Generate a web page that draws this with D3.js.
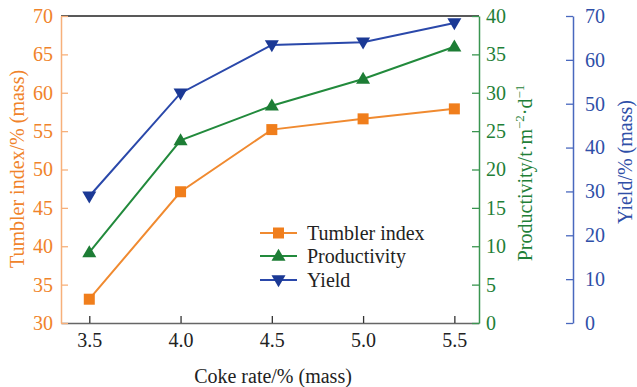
<!DOCTYPE html>
<html><head><meta charset="utf-8">
<script src="https://cdn.jsdelivr.net/npm/d3@7"></script>
<style>body{margin:0;background:#fff}svg{display:block}svg text{font-family:"Liberation Serif","Times New Roman",serif !important}</style>
</head><body>
<svg id="c" width="637" height="387"></svg>
<script>
const cokeRate = [3.5, 4.0, 4.5, 5.0, 5.5];
const tumbler = [33.1, 47.1, 55.2, 56.6, 57.9];
const productivity = [9.2, 23.8, 28.3, 31.8, 36.0];
const yieldV = [28.9, 52.4, 63.4, 64.0, 68.4];
const xTicks = [3.5, 4.0, 4.5, 5.0, 5.5];
const tumblerTicks = [30, 35, 40, 45, 50, 55, 60, 65, 70];
const prodTicks = [0, 5, 10, 15, 20, 25, 30, 35, 40];
const yieldTicks = [0, 10, 20, 30, 40, 50, 60, 70];
const seriesNames = ["Tumbler index", "Productivity", "Yield"];

const C = {
  orange: "#F0832A", orangeAxis: "#F7B07A",
  green: "#1F7F38", greenAxis: "#3A9550",
  blue: "#1F3D9C", blueAxis: "#4968BE", blueText: "#2F4FA8"
};
const svg = d3.select("#c");
const L = 61, R = 479, T = 16, B = 323, RY = 573;
const x = d3.scaleLinear().domain([3.345, 5.635]).range([L, R]);
const yT = d3.scaleLinear().domain([30, 70]).range([B, T]);
const yP = d3.scaleLinear().domain([0, 40]).range([B, T]);
const yY = d3.scaleLinear().domain([0, 70]).range([B, T]);
const fs = 20;

// top frame line
svg.append("line").attr("x1", L).attr("x2", R).attr("y1", T).attr("y2", T).attr("stroke", "#222").attr("stroke-width", 1.5);

function styleAxis(g, lineColor, textColor) {
  g.attr("font-family", null);
  g.select(".domain").attr("stroke", lineColor).attr("stroke-width", 1.5);
  g.selectAll(".tick line").attr("stroke", lineColor).attr("stroke-width", 1.3);
  g.selectAll(".tick text").attr("fill", textColor).attr("font-size", fs);
}

// x axis
const gx = svg.append("g").attr("transform", `translate(0,${B})`)
  .call(d3.axisBottom(x).tickValues(xTicks).tickFormat(d3.format(".1f")).tickSizeInner(-7).tickSizeOuter(0).tickPadding(10));
styleAxis(gx, "#666", "#222");
gx.selectAll(".tick line").attr("stroke", "#333");

// left axis
const gl = svg.append("g").attr("transform", `translate(${L},0)`)
  .call(d3.axisLeft(yT).tickValues(tumblerTicks).tickSizeInner(-7).tickSizeOuter(0).tickPadding(8));
styleAxis(gl, C.orangeAxis, C.orange);

// green right axis
const gp = svg.append("g").attr("transform", `translate(${R},0)`)
  .call(d3.axisRight(yP).tickValues(prodTicks).tickSizeInner(-7).tickSizeOuter(0).tickPadding(7));
styleAxis(gp, C.greenAxis, C.green);

// blue right axis
const gy = svg.append("g").attr("transform", `translate(${RY},0)`)
  .call(d3.axisRight(yY).tickValues(yieldTicks).tickSizeInner(-7).tickSizeOuter(0).tickPadding(12));
styleAxis(gy, C.blueAxis, C.blueText);

// axis titles
svg.append("text").attr("x", 273).attr("y", 383).attr("text-anchor", "middle").attr("font-size", fs).attr("fill", "#222").text("Coke rate/% (mass)");
svg.append("text").attr("transform", "translate(24,169) rotate(-90)").attr("text-anchor", "middle").attr("font-size", fs).attr("fill", C.orange).text("Tumbler index/% (mass)");
const pt = svg.append("text").attr("transform", "translate(532,173) rotate(-90)").attr("text-anchor", "middle").attr("font-size", fs).attr("fill", C.green);
pt.append("tspan").text("Productivity/t\u00B7m");
pt.append("tspan").attr("font-size", 13).attr("dy", -8).text("\u22122");
pt.append("tspan").attr("dy", 8).text("\u00B7d");
pt.append("tspan").attr("font-size", 13).attr("dy", -8).text("\u22121");
svg.append("text").attr("transform", "translate(632,162) rotate(-90)").attr("text-anchor", "middle").attr("font-size", fs).attr("fill", C.blueText).text("Yield/% (mass)");

// series
const series = [
  {name: seriesNames[0], vals: tumbler, y: yT, line: "#F08A30", mark: "#F07E1C", sym: "square"},
  {name: seriesNames[1], vals: productivity, y: yP, line: "#228A3C", mark: "#1D7D35", sym: "up"},
  {name: seriesNames[2], vals: yieldV, y: yY, line: "#2A48AA", mark: "#1B3995", sym: "down"}
];
function marker(g, sym, color, cx, cy) {
  if (sym === "square") {
    g.append("rect").attr("x", cx - 5.5).attr("y", cy - 5.5).attr("width", 11).attr("height", 11).attr("fill", color);
  } else if (sym === "up") {
    const h = 12, w = 14;
    g.append("path").attr("d", `M${cx},${cy - h * 0.6}L${cx + w / 2},${cy + h * 0.4}L${cx - w / 2},${cy + h * 0.4}Z`).attr("fill", color);
  } else {
    const h = 12, w = 14;
    g.append("path").attr("d", `M${cx},${cy + h * 0.6}L${cx + w / 2},${cy - h * 0.4}L${cx - w / 2},${cy - h * 0.4}Z`).attr("fill", color);
  }
}
series.forEach(s => {
  const line = d3.line().x((d, i) => x(cokeRate[i])).y(d => s.y(d));
  svg.append("path").datum(s.vals).attr("d", line).attr("fill", "none").attr("stroke", s.line).attr("stroke-width", 2);
  const g = svg.append("g");
  s.vals.forEach((v, i) => marker(g, s.sym, s.mark, x(cokeRate[i]), s.y(v)));
});

// legend
const legY = [233, 256, 280];
series.forEach((s, i) => {
  const g = svg.append("g");
  g.append("line").attr("x1", 260).attr("x2", 297).attr("y1", legY[i]).attr("y2", legY[i]).attr("stroke", s.line).attr("stroke-width", 2);
  marker(g, s.sym, s.mark, 278.5, legY[i]);
  g.append("text").attr("x", 307).attr("y", legY[i]).attr("dy", "0.35em").attr("font-size", fs).attr("fill", "#222").text(s.name);
});
</script>
</body></html>
